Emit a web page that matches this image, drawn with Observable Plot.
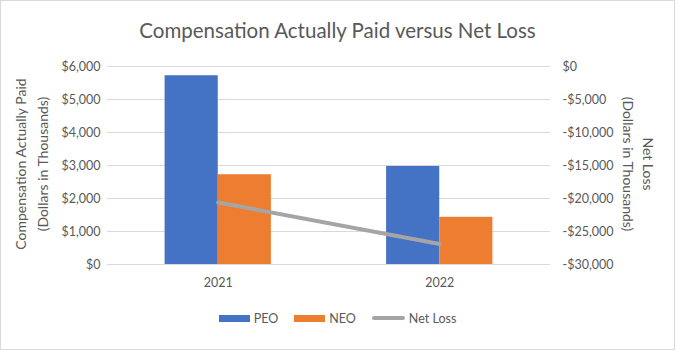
<!DOCTYPE html>
<html><head><meta charset="utf-8">
<script src="https://cdn.jsdelivr.net/npm/d3@7"></script>
<script src="https://cdn.jsdelivr.net/npm/@observablehq/plot@0.6"></script>
<style>
body{margin:0;background:#fff;}
#chart{position:relative;width:675px;height:350px;font-family:Lato, "Open Sans", sans-serif;color:#595959;overflow:hidden;background:#fff}
#chart::after{content:"";position:absolute;left:0;top:0;right:0;bottom:0;border:1px solid #d9d9d9;pointer-events:none}
#title{height:30px;padding-top:18px;line-height:24px;text-align:center;font-size:20.5px;}
#plot svg{display:block}
.ytitle{position:absolute;text-align:center;font-size:14px;white-space:nowrap}
#legend{position:absolute;left:0;width:675px;top:309px;height:18px;display:flex;justify-content:center;align-items:center;font-size:12.5px}
#legend .item{display:flex;align-items:center;margin:0 8px}
#legend .sw{width:31px;height:7px;margin-right:4px}
#legend .ln{width:33px;height:4px;border-radius:2px;margin-right:4px}
</style>
</head><body>
<div id="chart">
  <div id="title"></div>
  <div id="plot"></div>
  <div class="ytitle" id="ltitle"></div>
  <div class="ytitle" id="rtitle"></div>
  <div id="legend"></div>
</div>
<script>
const title = "Compensation Actually Paid versus Net Loss";
const years = [2021, 2022];
const peo = [5720, 2970];
const neo = [2720, 1430];
const netLoss = [-20600, -26900];
const leftTicks = [0, 1000, 2000, 3000, 4000, 5000, 6000];
const rightTicks = [-30000, -25000, -20000, -15000, -10000, -5000, 0];
const leftTitle = ["Compensation Actually Paid", "(Dollars in Thousands)"];
const rightTitle = ["Net Loss", "(Dollars in Thousands)"];
const seriesNames = ["PEO", "NEO", "Net Loss"];
const colors = ["#4472c4", "#ed7d31", "#a5a5a5"];

const barW = 0.24;
const rMin = -30000, rMax = 0, lMin = 0, lMax = 6000;
const toLeft = v => lMin + (v - rMin) * (lMax - lMin) / (rMax - rMin);
const fromLeft = v => rMin + (v - lMin) * (rMax - rMin) / (lMax - lMin);
const fmt = v => { v = Math.round(v); return (v < 0 ? "-" : "") + "$" + d3.format(",")(Math.abs(v)); };

const rows = years.map((y, i) => ({year: y, peo: peo[i], neo: neo[i], nl: netLoss[i]}));

document.getElementById("title").textContent = title;

const chart = Plot.plot({
  width: 675, height: 246,
  marginTop: 18, marginBottom: 30, marginLeft: 107, marginRight: 125,
  style: {fontFamily: "Lato, 'Open Sans', sans-serif", fontSize: "12.5px", color: "#595959", background: "transparent"},
  x: {type: "linear", domain: [years[0] - 0.5, years[years.length - 1] + 0.5]},
  y: {domain: [lMin, lMax]},
  marks: [
    Plot.gridY(leftTicks, {stroke: "#d9d9d9", strokeOpacity: 1}),
    Plot.rectY(rows, {x1: d => d.year - barW, x2: "year", y: "peo", fill: colors[0]}),
    Plot.rectY(rows, {x1: "year", x2: d => d.year + barW, y: "neo", fill: colors[1]}),
    Plot.line(rows, {x: "year", y: d => toLeft(d.nl), stroke: colors[2], strokeWidth: 4, strokeLinecap: "round"}),
    Plot.axisY(leftTicks, {anchor: "left", tickSize: 0, tickPadding: 7, tickFormat: fmt, label: null, fill: "#595959"}),
    Plot.axisY(rightTicks.map(toLeft), {anchor: "right", tickSize: 0, tickPadding: 12, textAnchor: "start", tickFormat: v => fmt(fromLeft(v)), label: null, fill: "#595959"}),
    Plot.axisX(years, {tickSize: 0, tickPadding: 14, tickFormat: d => String(d), label: null, fill: "#595959"})
  ]
});
document.getElementById("plot").appendChild(chart);

function setTitle(el, lines, cx, cy, lh, rot) {
  const w = 240, h = lh * lines.length;
  el.innerHTML = lines.map(t => `<div style="line-height:${lh}px">${t}</div>`).join("");
  el.style.width = w + "px";
  el.style.height = h + "px";
  el.style.left = (cx - w / 2) + "px";
  el.style.top = (cy - h / 2) + "px";
  el.style.transform = `rotate(${rot}deg)`;
}
setTitle(document.getElementById("ltitle"), leftTitle, 32, 164, 22, -90);
setTitle(document.getElementById("rtitle"), rightTitle, 638, 164, 20, 90);

const legend = document.getElementById("legend");
seriesNames.forEach((name, i) => {
  const item = document.createElement("div");
  item.className = "item";
  const sw = document.createElement("div");
  sw.className = i < 2 ? "sw" : "ln";
  sw.style.background = colors[i];
  const tx = document.createElement("span");
  tx.textContent = name;
  item.appendChild(sw); item.appendChild(tx);
  legend.appendChild(item);
});
</script>
</body></html>
